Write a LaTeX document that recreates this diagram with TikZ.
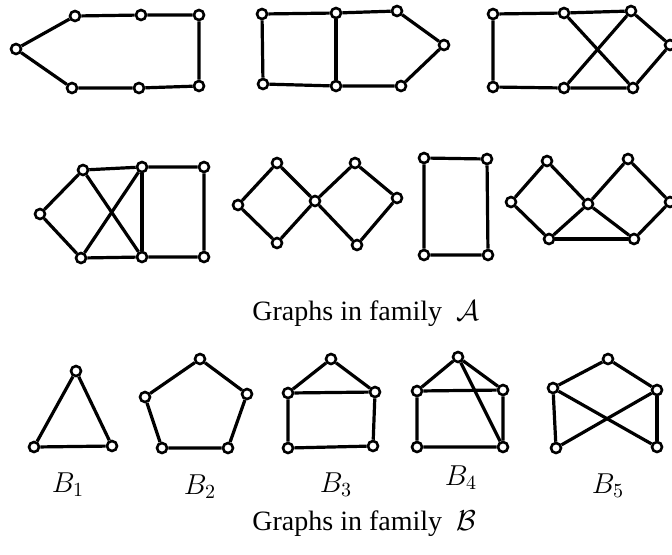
\documentclass[tikz,border=0pt]{standalone}
\usepackage{amsmath,amssymb}
\usepackage{fontspec}
\setmainfont{Liberation Serif}
\usepackage{tikz}
\usetikzlibrary{positioning,calc}
\tikzset{
  vx/.style={circle,draw=black,line width=1.3pt,fill=white,minimum size=5pt,inner sep=0pt},
  ed/.style={line width=1.6pt,draw=black},
  captext/.style={font=\fontsize{14}{16}\selectfont,anchor=base west,inner sep=0pt},
  blab/.style={font=\fontsize{14}{16}\selectfont,anchor=base,inner sep=0pt}
}

\begin{document}
\begin{tikzpicture}[x=.5pt,y=-.5pt]
  \useasboundingbox (0,0) rectangle (672,554);
  % family A, first row
  \node[vx] (a1) at (16,49) {}; \node[vx] (a2) at (75,16) {}; \node[vx] (a3) at (141,15) {}; \node[vx] (a4) at (199,15) {};
  \node[vx] (a5) at (72,88) {}; \node[vx] (a6) at (139,88) {}; \node[vx] (a7) at (199,86) {};
  \draw[ed] (a1)--(a2)--(a3)--(a4)--(a7)--(a6)--(a5)--(a1);

  \node[vx] (b1) at (262,14) {}; \node[vx] (b2) at (336,13) {}; \node[vx] (b3) at (397,11) {}; \node[vx] (b4) at (444,45) {};
  \node[vx] (b5) at (263,84) {}; \node[vx] (b6) at (336,86) {}; \node[vx] (b7) at (401,86) {};
  \draw[ed] (b1)--(b2)--(b3)--(b4)--(b7)--(b6)--(b5)--(b1);
  \draw[ed] (b2)--(b6);

  \node[vx] (c1) at (493,14) {}; \node[vx] (c2) at (564,13) {}; \node[vx] (c3) at (631,11) {}; \node[vx] (c4) at (670,45) {};
  \node[vx] (c5) at (493,87) {}; \node[vx] (c6) at (564,88) {}; \node[vx] (c7) at (633,88) {};
  \draw[ed] (c1)--(c2)--(c3)--(c4)--(c7)--(c6)--(c5)--(c1);
  \draw[ed] (c2)--(c7); \draw[ed] (c3)--(c6);

  % family A, second row
  \node[vx] (d1) at (40,214) {}; \node[vx] (d2) at (83,170) {}; \node[vx] (d3) at (81,258) {};
  \node[vx] (d4) at (142,167) {}; \node[vx] (d5) at (142,257) {}; \node[vx] (d6) at (204,167) {}; \node[vx] (d7) at (204,257) {};
  \draw[ed] (d1)--(d2)--(d4)--(d6)--(d7)--(d5)--(d3)--(d1);
  \draw[ed] (d2)--(d5); \draw[ed] (d3)--(d4); \draw[ed] (d4)--(d5);

  \node[vx] (e1) at (238,205) {}; \node[vx] (e2) at (277,163) {}; \node[vx] (e3) at (277,243) {}; \node[vx] (e4) at (315,201) {};
  \node[vx] (e5) at (355,163) {}; \node[vx] (e6) at (397,198) {}; \node[vx] (e7) at (357,245) {};
  \draw[ed] (e1)--(e2)--(e4)--(e3)--(e1);
  \draw[ed] (e4)--(e5)--(e6)--(e7)--(e4);

  \node[vx] (f1) at (424,158) {}; \node[vx] (f2) at (487,159) {}; \node[vx] (f3) at (424,255) {}; \node[vx] (f4) at (488,255) {};
  \draw[ed] (f1)--(f2)--(f4)--(f3)--(f1);

  \node[vx] (h1) at (511,202) {}; \node[vx] (h2) at (547,161) {}; \node[vx] (h3) at (549,239) {}; \node[vx] (h4) at (588,204) {};
  \node[vx] (h5) at (628,159) {}; \node[vx] (h6) at (670,202) {}; \node[vx] (h7) at (634,239) {};
  \draw[ed] (h1)--(h2)--(h4)--(h3)--(h1);
  \draw[ed] (h4)--(h5)--(h6)--(h7)--(h4);
  \draw[ed] (h3)--(h7);

  \node[captext] (capA) at (252,320) {Graphs in family\ \ $\mathcal{A}$};

  % family B
  \node[vx] (p1) at (76,371) {}; \node[vx] (p2) at (34,447) {}; \node[vx] (p3) at (112,446) {};
  \draw[ed] (p1)--(p2)--(p3)--(p1);

  \node[vx] (q1) at (200,359) {}; \node[vx] (q2) at (145,397) {}; \node[vx] (q3) at (247,394) {};
  \node[vx] (q4) at (162,448) {}; \node[vx] (q5) at (228,448) {};
  \draw[ed] (q1)--(q2)--(q4)--(q5)--(q3)--(q1);

  \node[vx] (r1) at (331,359) {}; \node[vx] (r2) at (288,393) {}; \node[vx] (r3) at (375,392) {};
  \node[vx] (r4) at (288,448) {}; \node[vx] (r5) at (373,446) {};
  \draw[ed] (r1)--(r2)--(r4)--(r5)--(r3)--(r1); \draw[ed] (r2)--(r3);

  \node[vx] (s1) at (458,357) {}; \node[vx] (s2) at (417,391) {}; \node[vx] (s3) at (503,390) {};
  \node[vx] (s4) at (417,447) {}; \node[vx] (s5) at (503,447) {};
  \draw[ed] (s1)--(s2)--(s4)--(s5)--(s3)--(s1); \draw[ed] (s2)--(s3); \draw[ed] (s1)--(s5);

  \node[vx] (t1) at (608,359) {}; \node[vx] (t2) at (553,388) {}; \node[vx] (t3) at (657,390) {};
  \node[vx] (t4) at (556,448) {}; \node[vx] (t5) at (657,447) {};
  \draw[ed] (t2)--(t1)--(t3); \draw[ed] (t2)--(t4); \draw[ed] (t3)--(t5);
  \draw[ed] (t2)--(t5); \draw[ed] (t3)--(t4);

  \node[blab] (l1) at (68,492) {$B_1$};
  \node[blab] (l2) at (200,494) {$B_2$};
  \node[blab] (l3) at (336,492) {$B_3$};
  \node[blab] (l4) at (461,485) {$B_4$};
  \node[blab] (l5) at (608,493) {$B_5$};

  \node[captext] (capB) at (252,530) {Graphs in family\ \ $\mathcal{B}$};
\end{tikzpicture}
\end{document}
